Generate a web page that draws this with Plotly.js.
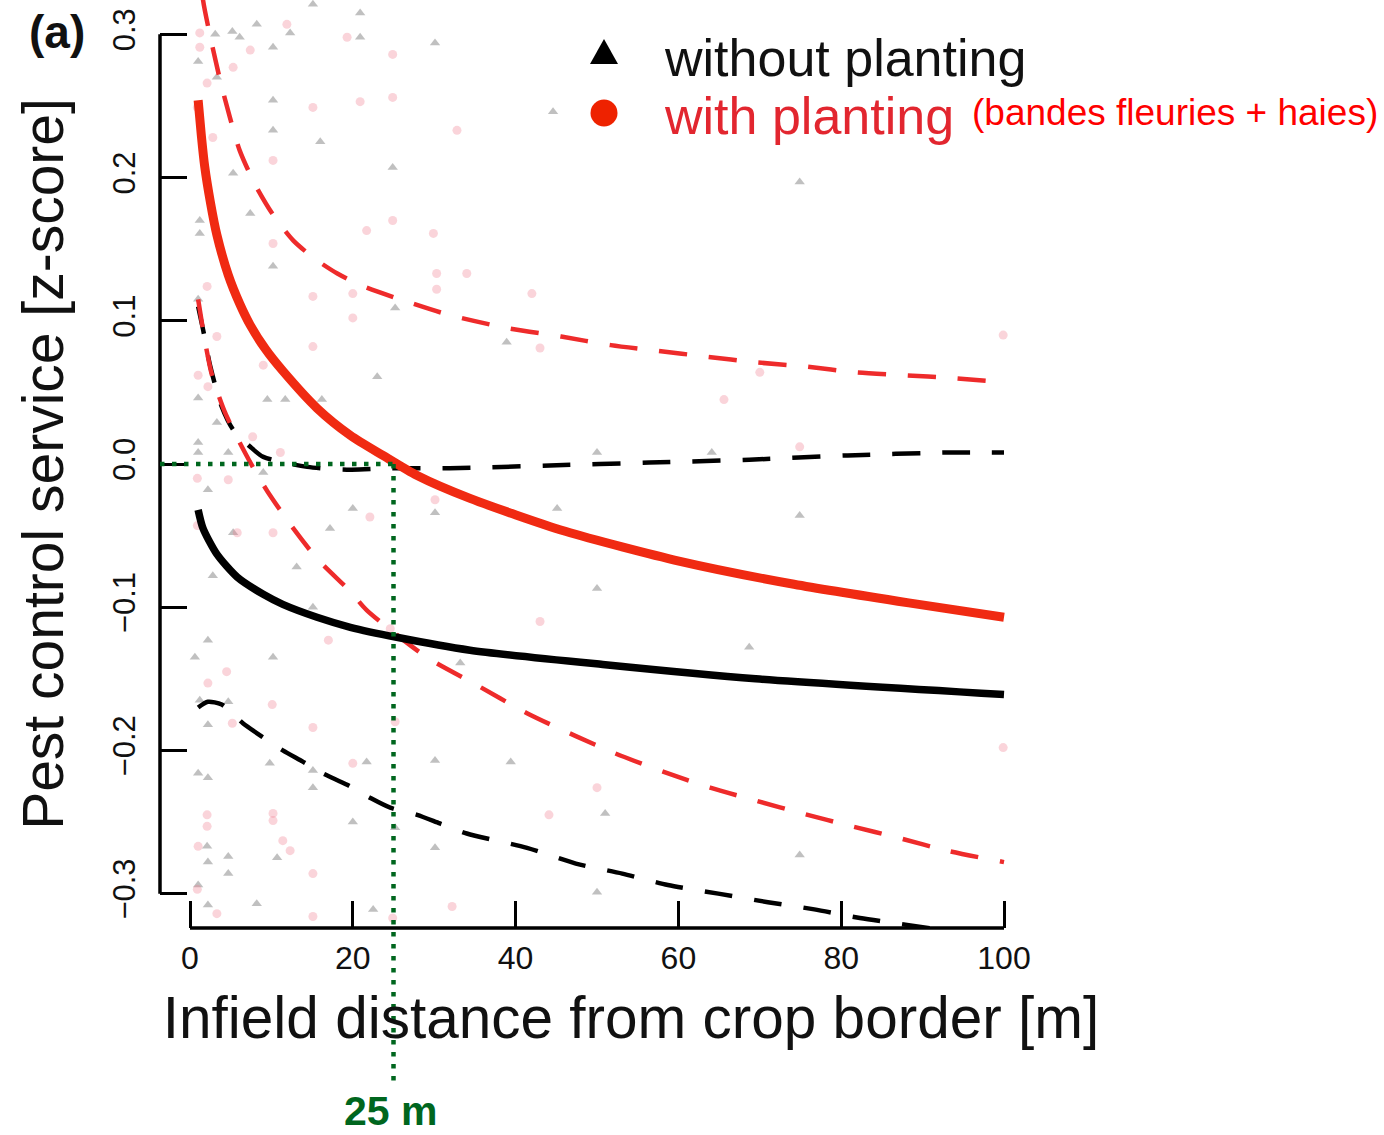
<!DOCTYPE html>
<html>
<head>
<meta charset="utf-8">
<script src="https://cdn.plot.ly/plotly-3.0.1.min.js"></script>
<style>
  html, body { margin: 0; padding: 0; background: #ffffff; }
  #chart { width: 1384px; height: 1135px; }
</style>
</head>
<body>
<div id="chart"></div>
<script>
// ---- fitted curves (infield distance in m, pest control z-score) ----
// with planting: fit and 95% band
const withFitX   = [1, 1.4, 1.8, 2.5, 3.3, 4.7, 6.1, 7.4, 9.3, 11.4, 15.6, 19.7, 23.7, 27.9, 34.4, 46.1, 60.2, 74.2, 88.3, 100];
const withFitY   = [0.254, 0.229, 0.208, 0.183, 0.160, 0.132, 0.112, 0.097, 0.080, 0.065, 0.039, 0.020, 0.006, -0.008, -0.024, -0.047, -0.068, -0.084, -0.097, -0.107];
const withUpperX = [1, 1.6, 2.7, 3.7, 4.9, 6.1, 8.0, 10.2, 12.7, 15.4, 18.1, 20.9, 25.8, 31.9, 38.9, 45.6, 51.7, 57.4, 63.4, 69.5, 75.7, 81.8, 87.8, 93.5, 100];
const withUpperY = [0.360, 0.324, 0.293, 0.268, 0.242, 0.219, 0.195, 0.174, 0.156, 0.143, 0.133, 0.125, 0.115, 0.104, 0.095, 0.089, 0.083, 0.079, 0.075, 0.071, 0.068, 0.064, 0.062, 0.060, 0.057];
const withLowerX = [1, 1.8, 2.7, 4.3, 6.1, 8.0, 9.5, 12.3, 15.6, 19.7, 21.7, 29.1, 34.8, 41.4, 47.4, 52.2, 58.2, 63.9, 69.5, 75.2, 81.3, 87.0, 93.0, 100];
const withLowerY = [0.115, 0.087, 0.062, 0.036, 0.015, -0.005, -0.019, -0.042, -0.066, -0.089, -0.102, -0.135, -0.153, -0.174, -0.190, -0.202, -0.215, -0.226, -0.235, -0.244, -0.253, -0.261, -0.270, -0.278];

// without planting: fit and 95% band
const withoutFitX   = [1, 1.6, 3.3, 5.8, 9.0, 11.4, 15.6, 19.7, 25.4, 34.4, 50.7, 69.5, 100];
const withoutFitY   = [-0.032, -0.045, -0.063, -0.079, -0.091, -0.098, -0.107, -0.114, -0.121, -0.130, -0.140, -0.150, -0.161];
const withoutUpperX = [1, 1.6, 2.5, 3.9, 5.3, 7.4, 9.0, 14.4, 19.7, 24.6, 31.9, 44.2, 56.4, 68.7, 80.8, 93.0, 100];
const withoutUpperY = [0.110, 0.094, 0.068, 0.040, 0.024, 0.012, 0.005, -0.002, -0.004, -0.003, -0.003, -0.001, 0.001, 0.003, 0.006, 0.008, 0.008];
const withoutLowerX = [1, 2.2, 3.9, 6.5, 9.0, 11.4, 13.9, 16.3, 19.3, 22.1, 24.6, 27.9, 30.7, 34.0, 41.4, 47.4, 53.1, 58.7, 64.9, 71.0, 76.7, 82.3, 88.3, 100];
const withoutLowerY = [-0.170, -0.166, -0.168, -0.181, -0.191, -0.200, -0.208, -0.216, -0.224, -0.233, -0.240, -0.245, -0.251, -0.258, -0.268, -0.279, -0.286, -0.294, -0.300, -0.306, -0.311, -0.317, -0.322, -0.332];

// ---- observations ----
const withoutPtsX = [15.1, 20.9, 8.2, 5.2, 3.1, 6.1, 12.3, 20.9, 10.2, 1.0, 3.3, 30.1, 10.2, 10.2, 16.0, 24.9, 5.3, 1.2, 1.2, 7.4,
                     10.2, 1.0, 25.2, 23.0, 9.5, 11.7, 16.2, 1.0, 3.3, 1.0, 1.0, 4.7, 9.0, 2.2, 20.0, 30.1, 17.2, 13.1, 2.8, 5.3,
                     15.1, 2.2, 0.6, 10.2, 33.2, 1.2, 4.7, 2.2, 9.8, 15.1, 15.1, 21.7, 30.1, 1.0, 2.2, 20.0, 25.2, 30.1, 2.1, 2.2,
                     4.7, 4.7, 10.7, 1.0, 8.2, 2.2, 22.5, 38.9, 50.0, 64.1, 45.1, 74.9, 50.0, 68.7, 39.4, 51.0, 74.9, 50.0, 74.9, 44.6];
const withoutPtsY = [0.321, 0.315, 0.307, 0.302, 0.300, 0.298, 0.301, 0.298, 0.291, 0.281, 0.270, 0.294, 0.254, 0.233, 0.225, 0.207, 0.203, 0.170, 0.161, 0.175,
                     0.138, 0.115, 0.109, 0.061, 0.045, 0.045, 0.045, 0.046, 0.029, 0.015, 0.008, 0.008, -0.006, -0.018, -0.031, -0.034, -0.045, -0.072, -0.078, -0.048,
                     -0.100, -0.123, -0.135, -0.135, -0.139, -0.165, -0.166, -0.182, -0.209, -0.214, -0.226, -0.208, -0.207, -0.216, -0.219, -0.250, -0.254, -0.268, -0.267, -0.278,
                     -0.274, -0.286, -0.275, -0.294, -0.307, -0.308, -0.311, 0.085, 0.008, 0.008, -0.031, -0.036, -0.087, -0.128, -0.208, -0.244, -0.273, -0.299, 0.197, 0.246];
const withPtsX = [1.2, 1.2, 7.4, 5.3, 2.1, 24.9, 24.9, 15.1, 20.9, 11.9, 19.3, 0.9, 10.2, 2.8, 21.7, 24.9, 29.9, 10.2, 2.1, 15.1,
                  30.3, 30.3, 32.8, 20.0, 20.0, 3.3, 15.1, 9.0, 1.0, 2.2, 11.1, 7.7, 4.7, 0.9, 22.1, 30.1, 10.2, 5.8, 0.9, 17.0,
                  24.6, 4.5, 2.2, 10.1, 5.2, 15.1, 25.2, 20.0, 2.1, 2.1, 10.2, 10.2, 1.0, 11.4, 12.3, 15.1, 32.2, 15.1, 3.3, 24.9,
                  0.9, 34.0, 42.0, 43.0, 65.6, 70.0, 74.9, 99.9, 43.0, 50.0, 44.1, 99.9];
const withPtsY = [0.301, 0.291, 0.289, 0.277, 0.266, 0.286, 0.256, 0.249, 0.253, 0.307, 0.298, 0.249, 0.212, 0.228, 0.163, 0.170, 0.161, 0.154, 0.124, 0.117,
                  0.133, 0.122, 0.233, 0.119, 0.102, 0.089, 0.082, 0.069, 0.062, 0.054, 0.008, 0.019, -0.011, -0.010, -0.037, -0.025, -0.048, -0.048, -0.043, -0.123,
                  -0.115, -0.145, -0.153, -0.168, -0.181, -0.184, -0.180, -0.209, -0.245, -0.253, -0.244, -0.249, -0.267, -0.263, -0.270, -0.286, -0.309, -0.316, -0.314, -0.317,
                  -0.297, 0.133, 0.119, 0.081, 0.045, 0.064, 0.012, 0.090, -0.110, -0.226, -0.245, -0.198];

// ---- axes ----
const xTickVals = [0, 20, 40, 60, 80, 100];
const xTickText = ['0', '20', '40', '60', '80', '100'];
const yTickVals = [-0.3, -0.2, -0.1, 0, 0.1, 0.2, 0.3];
const yTickText = ['\u22120.3', '\u22120.2', '\u22120.1', '0.0', '0.1', '0.2', '0.3'];
const thresholdDistance = 25;   // distance where the planted fit reaches zero
const thresholdLabel = '25 m';

// ---- page geometry ----
const W = 1384, H = 1135;
const M = { l: 160, r: 282, t: 0, b: 207 };
const plotW = W - M.l - M.r, plotH = H - M.t - M.b;
const xRange = [-3.686, 112.04];
const yRange = [-0.324, 0.324];
const px = (x) => (x - M.l) / plotW;          // page pixel -> paper x
const py = (y) => (H - M.b - y) / plotH;      // page pixel -> paper y

const FONT = 'Liberation Sans, Arial, Helvetica, sans-serif';
const RED_FIT = '#f02a12';
const RED_BAND = '#ee2b2b';
const BLACK = '#000000';
const GREEN = '#00661e';

const line = (x, y, color, width, dash) => ({
  x, y, type: 'scatter', mode: 'lines', hoverinfo: 'skip', showlegend: false,
  line: { color, width, dash: dash || 'solid', shape: 'spline', smoothing: 0.7 }
});

const DASH = '28px,22px';

const traces = [
  { x: withoutPtsX, y: withoutPtsY, type: 'scatter', mode: 'markers', name: 'without planting', showlegend: false,
    marker: { symbol: 'triangle-up', size: 9, color: 'rgba(105,105,105,0.42)', line: { width: 0 } } },
  { x: withPtsX, y: withPtsY, type: 'scatter', mode: 'markers', name: 'with planting', showlegend: false,
    marker: { symbol: 'circle', size: 9, color: 'rgba(238,120,140,0.32)', line: { width: 0 } } },
  line(withoutUpperX, withoutUpperY, BLACK, 4.5, DASH),
  line(withoutLowerX, withoutLowerY, BLACK, 4.5, DASH),
  line(withUpperX, withUpperY, RED_BAND, 4.5, DASH),
  line(withLowerX, withLowerY, RED_BAND, 4.5, DASH),
  line(withoutFitX, withoutFitY, BLACK, 7.5),
  line(withFitX, withFitY, RED_FIT, 9)
];

const zeroPaperY = (0 - yRange[0]) / (yRange[1] - yRange[0]);

const shapes = [
  // axis lines spanning only the labelled extent
  { type: 'line', xref: 'paper', yref: 'y', x0: 0, x1: 0, y0: yTickVals[0], y1: yTickVals[yTickVals.length - 1],
    line: { color: BLACK, width: 3.5 } },
  { type: 'line', xref: 'x', yref: 'paper', x0: xTickVals[0], x1: xTickVals[xTickVals.length - 1], y0: 0, y1: 0,
    line: { color: BLACK, width: 3.5 } },
  // zero-crossing guide
  { type: 'line', xref: 'x', yref: 'y', x0: xRange[0], x1: thresholdDistance, y0: 0, y1: 0, layer: 'above',
    line: { color: GREEN, width: 4.5, dash: '4.5px,7.5px' } },
  { type: 'line', xref: 'x', yref: 'paper', x0: thresholdDistance, x1: thresholdDistance, y0: zeroPaperY, y1: py(1082), layer: 'above',
    line: { color: GREEN, width: 4.5, dash: '4.5px,7.5px' } },
  // key symbols
  { type: 'path', xref: 'paper', yref: 'paper',
    path: 'M ' + px(590) + ' ' + py(64) + ' L ' + px(618) + ' ' + py(64) + ' L ' + px(604) + ' ' + py(39) + ' Z',
    fillcolor: BLACK, line: { width: 0 } },
  { type: 'circle', xref: 'paper', yref: 'paper', x0: px(590.5), x1: px(617.5), y0: py(126.5), y1: py(99.5),
    fillcolor: '#ee2200', line: { width: 0 } }
];

const annotations = [
  { text: '<b>(a)</b>', xref: 'paper', yref: 'paper', x: px(57), y: py(32), xanchor: 'center', yanchor: 'middle',
    showarrow: false, font: { family: FONT, size: 46, color: '#111111' } },
  { text: 'without planting', xref: 'paper', yref: 'paper', x: px(662), y: py(58), xanchor: 'left', yanchor: 'middle',
    showarrow: false, font: { family: FONT, size: 52, color: '#111111' } },
  { text: 'with planting', xref: 'paper', yref: 'paper', x: px(662), y: py(116), xanchor: 'left', yanchor: 'middle',
    showarrow: false, font: { family: FONT, size: 52, color: '#e2262f' } },
  { text: '(bandes fleuries + haies)', xref: 'paper', yref: 'paper', x: px(970), y: py(112), xanchor: 'left', yanchor: 'middle',
    showarrow: false, font: { family: FONT, size: 37, color: '#ff0000' } },
  { text: '<b>' + thresholdLabel + '</b>', xref: 'paper', yref: 'paper', x: px(390), y: py(1111), xanchor: 'center', yanchor: 'middle',
    showarrow: false, font: { family: FONT, size: 41, color: GREEN } }
];

const layout = {
  width: W, height: H,
  margin: M,
  paper_bgcolor: '#ffffff', plot_bgcolor: '#ffffff',
  showlegend: false,
  font: { family: FONT, color: '#111111' },
  xaxis: {
    range: xRange, fixedrange: true,
    showgrid: false, zeroline: false, showline: false,
    tickmode: 'array', tickvals: xTickVals, ticktext: xTickText,
    ticks: 'inside', ticklen: 27, tickwidth: 3, tickcolor: BLACK,
    tickfont: { family: FONT, size: 32, color: '#111111' },
    ticklabelstandoff: 8,
    title: { text: 'Infield distance from crop border [m]', standoff: 22,
             font: { family: FONT, size: 58.5, color: '#111111' } }
  },
  yaxis: {
    range: yRange, fixedrange: true,
    showgrid: false, zeroline: false, showline: false,
    tickmode: 'array', tickvals: yTickVals, ticktext: yTickText,
    ticks: 'inside', ticklen: 27, tickwidth: 3, tickcolor: BLACK,
    tickangle: -90,
    tickfont: { family: FONT, size: 31, color: '#111111' },
    ticklabelstandoff: 18,
    title: { text: 'Pest control service [z-score]', standoff: 24,
             font: { family: FONT, size: 57, color: '#111111' } }
  },
  shapes, annotations
};

Plotly.newPlot('chart', traces, layout, { staticPlot: true, displayModeBar: false });
</script>
</body>
</html>
